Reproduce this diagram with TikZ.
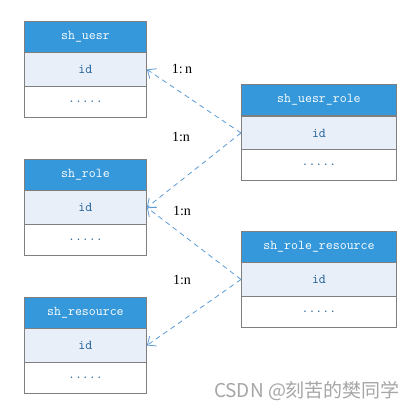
\documentclass[tikz,border=0pt]{standalone}
\usepackage{fontspec}
\setmainfont{Liberation Serif}
\newfontfamily\cjkfont{Noto Sans CJK SC}
\usetikzlibrary{arrows.meta}
\definecolor{hdrblue}{HTML}{3598DB}
\definecolor{idfill}{HTML}{E8EFF8}
\definecolor{cellline}{HTML}{7F7F7F}
\definecolor{idtext}{HTML}{1F5F99}
\definecolor{linkblue}{HTML}{5B9BD5}
\definecolor{wmgray}{HTML}{A6A6A6}
\tikzset{
  cell/.style={draw=cellline, line width=0.9pt, anchor=north west, inner sep=0pt,
    font=\ttfamily\fontsize{13.5}{14}\selectfont},
  hdr/.style={cell, fill=hdrblue, text=white, minimum height=31pt},
  idrow/.style={cell, fill=idfill, text=idtext, minimum height=34pt},
  dotrow/.style={cell, fill=white, text=idtext, minimum height=31pt},
  link/.style={draw=linkblue, line width=0.8pt, dash pattern=on 5pt off 4pt,
    -{Straight Barb[length=7pt,width=12pt,line width=0.8pt]}},
  ratio/.style={font=\fontsize{14}{15}\selectfont, text=black, inner sep=1pt},
}
\begin{document}
\begin{tikzpicture}[x=1pt,y=-1pt]
\path[fill=white,use as bounding box] (0,0) rectangle (417,412);
% sh_uesr
\node[hdr,minimum width=122pt] (u-h) at (24,21) {sh\_uesr};
\node[idrow,minimum width=122pt] (u-id) at (24,52) {id};
\node[dotrow,minimum width=122pt] (u-d) at (24,86) {.....};
% sh_uesr_role
\node[hdr,minimum width=155pt] (ur-h) at (241,84) {sh\_uesr\_role};
\node[idrow,minimum width=155pt,minimum height=33pt] (ur-id) at (241,116) {id};
\node[dotrow,minimum width=155pt] (ur-d) at (241,149) {.....};
% sh_role
\node[hdr,minimum width=122pt] (r-h) at (24,159) {sh\_role};
\node[idrow,minimum width=122pt] (r-id) at (24,190) {id};
\node[dotrow,minimum width=122pt] (r-d) at (24,224) {.....};
% sh_role_resource
\node[hdr,minimum width=155pt] (rr-h) at (241,231) {sh\_role\_resource};
\node[idrow,minimum width=155pt] (rr-id) at (241,262) {id};
\node[dotrow,minimum width=155pt] (rr-d) at (241,296) {.....};
% sh_resource
\node[hdr,minimum width=122pt] (s-h) at (24,297) {sh\_resource};
\node[idrow,minimum width=122pt] (s-id) at (24,328) {id};
\node[dotrow,minimum width=122pt] (s-d) at (24,362) {.....};
% links
\draw[link] (ur-id.west) -- (u-id.east);
\draw[link] (ur-id.west) -- (r-id.east);
\draw[link] (rr-id.west) -- (r-id.east);
\draw[link] (rr-id.west) -- (s-id.east);
% labels
\node[ratio] (l1) at (182,69) {1:\,n};
\node[ratio] (l2) at (181,137) {1:n};
\node[ratio] (l3) at (182,211) {1:n};
\node[ratio] (l4) at (182,280) {1:n};
% watermark
\node[text=wmgray, inner sep=0pt, font=\fontsize{19}{20}\selectfont\cjkfont] (wm) at (307,391) {CSDN @刻苦的樊同学};
\end{tikzpicture}
\end{document}
